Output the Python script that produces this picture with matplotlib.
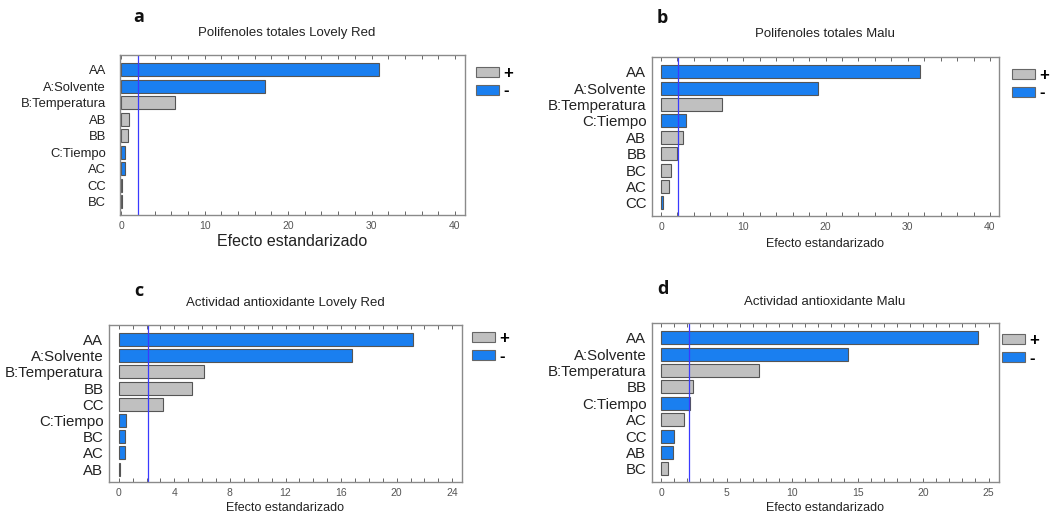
#!/usr/bin/env python3

import matplotlib
matplotlib.use("Agg")
import matplotlib.pyplot as plt
from matplotlib.patches import Patch
from matplotlib.ticker import MultipleLocator
from matplotlib.transforms import Bbox, TransformedBbox

plt.rcParams['font.family'] = ['Liberation Sans', 'DejaVu Sans']

W, H = 1052, 516

# --- data ---------------------------------------------------------------
terms_a = ["AA", "A:Solvente", "B:Temperatura", "AB", "BB", "C:Tiempo", "AC", "CC", "BC"]
vals_a = [30.9, 17.2, 6.4, 0.95, 0.85, 0.45, 0.4, 0.1, 0.1]
sign_a = ["-", "-", "+", "+", "+", "-", "-", "+", "+"]

terms_b = ["AA", "A:Solvente", "B:Temperatura", "C:Tiempo", "AB", "BB", "BC", "AC", "CC"]
vals_b = [31.5, 19.1, 7.4, 3.0, 2.7, 1.9, 1.2, 0.93, 0.2]
sign_b = ["-", "-", "+", "-", "+", "+", "+", "+", "-"]

terms_c = ["AA", "A:Solvente", "B:Temperatura", "BB", "CC", "C:Tiempo", "BC", "AC", "AB"]
vals_c = [21.2, 16.8, 6.15, 5.25, 3.15, 0.5, 0.48, 0.43, 0.12]
sign_c = ["-", "-", "+", "+", "+", "-", "-", "-", "+"]

terms_d = ["AA", "A:Solvente", "B:Temperatura", "BB", "C:Tiempo", "AC", "CC", "AB", "BC"]
vals_d = [24.2, 14.3, 7.45, 2.44, 2.21, 1.78, 0.99, 0.94, 0.51]
sign_d = ["-", "-", "+", "+", "-", "+", "-", "-", "+"]

crit = [2.05, 2.06, 2.1, 2.16]   # standardized-effect cutoff line

titles = ["Polifenoles totales Lovely Red", "Polifenoles totales Malu",
          "Actividad antioxidante Lovely Red", "Actividad antioxidante Malu"]
letters = ["a", "b", "c", "d"]

GRAY = "#c0c0c0"
BLUE = "#1a7ff0"
colmap = {"+": GRAY, "-": BLUE}

fig = plt.figure(figsize=(W / 100, H / 100), dpi=100)


def px_axes(x0, y0, x1, y1):
    return fig.add_axes([x0 / W, 1 - y1 / H, (x1 - x0) / W, (y1 - y0) / H])


# panel settings: axes box (px), xlim, major, minor, label font sizes, positions
panels = [
    dict(box=(120, 55, 465, 215), xlim=(-0.15, 41.2), major=10, minor=2,
         terms=terms_a, vals=vals_a, sign=sign_a, ylab=9.4, ypad=10, xlab=11.5,
         title_xy=(287, 33), letter_xy=(133, 17), xlab_y=242, leg_xy=(476, 66), clip=None),
    dict(box=(652, 57, 999, 216), xlim=(-1.1, 41.1), major=10, minor=2,
         terms=terms_b, vals=vals_b, sign=sign_b, ylab=10.8, ypad=4, xlab=9,
         title_xy=(825, 34), letter_xy=(657, 18), xlab_y=244, leg_xy=(1012, 68), clip=549),
    dict(box=(109, 325, 462, 482), xlim=(-0.7, 24.7), major=4, minor=1,
         terms=terms_c, vals=vals_c, sign=sign_c, ylab=10.8, ypad=4, xlab=9,
         title_xy=(285, 303), letter_xy=(134, 291), xlab_y=508, leg_xy=(472, 331), clip=None),
    dict(box=(652, 323, 999, 482), xlim=(-0.69, 25.8), major=5, minor=1,
         terms=terms_d, vals=vals_d, sign=sign_d, ylab=10.8, ypad=4, xlab=9,
         title_xy=(825, 302), letter_xy=(657, 289), xlab_y=508, leg_xy=(1002, 333), clip=549),
]

for i, p in enumerate(panels):
    ax = px_axes(*p["box"])
    n = len(p["terms"])
    pos = list(range(n))
    ax.barh(pos, p["vals"], height=0.8, left=0,
            color=[colmap[s] for s in p["sign"]], edgecolor="#555555", linewidth=0.8)
    ax.axvline(crit[i], color="#3a3aff", lw=0.9)
    ax.set_ylim(n - 0.2, -0.9)
    ax.set_xlim(*p["xlim"])
    ax.set_yticks(pos)
    ax.set_yticklabels(p["terms"], fontsize=p["ylab"], color="#222222")
    ax.xaxis.set_major_locator(MultipleLocator(p["major"]))
    ax.xaxis.set_minor_locator(MultipleLocator(p["minor"]))
    ax.tick_params(axis="x", which="both", direction="in", top=True, length=3,
                   width=0.7, color="#666666", labelsize=7.5, labelcolor="#555555", pad=4)
    ax.tick_params(axis="y", length=0, pad=p["ypad"])
    for s in ax.spines.values():
        s.set_color("#8a8a8a")
        s.set_linewidth(1.0)

    if p["clip"] is not None:
        # the right-hand panels are cropped in the source figure
        cb = TransformedBbox(Bbox([[p["clip"] / W, 0], [1, 1]]), fig.transFigure)
        for lab in ax.get_yticklabels():
            lab.set_clip_box(cb)
            lab.set_clip_on(True)

    tx, ty = p["title_xy"]
    fig.text(tx / W, 1 - ty / H, titles[i], ha="center", va="center", fontsize=9.5, color="#222222")
    lx, ly = p["letter_xy"]
    fig.text(lx / W, 1 - ly / H, letters[i], ha="left", va="center", fontsize=13,
             fontweight="bold", family=["Open Sans", "DejaVu Sans"], color="#111111")
    xl_c = (p["box"][0] + p["box"][2]) / 2
    fig.text(xl_c / W, 1 - p["xlab_y"] / H, "Efecto estandarizado", ha="center", va="center",
             fontsize=p["xlab"], color="#222222")

    handles = [Patch(facecolor=GRAY, edgecolor="#666666", lw=0.8),
               Patch(facecolor=BLUE, edgecolor="#666666", lw=0.8)]
    gx, gy = p["leg_xy"]
    leg = fig.legend(handles, ["+", "-"], loc="upper left",
                     bbox_to_anchor=(gx / W, 1 - gy / H), bbox_transform=fig.transFigure,
                     frameon=False, fontsize=12, handlelength=1.35, handleheight=0.55,
                     handletextpad=0.3, labelspacing=0.15, borderpad=0, borderaxespad=0)
    for t in leg.get_texts():
        t.set_fontweight("bold")

fig.savefig("out.png", dpi=100)
